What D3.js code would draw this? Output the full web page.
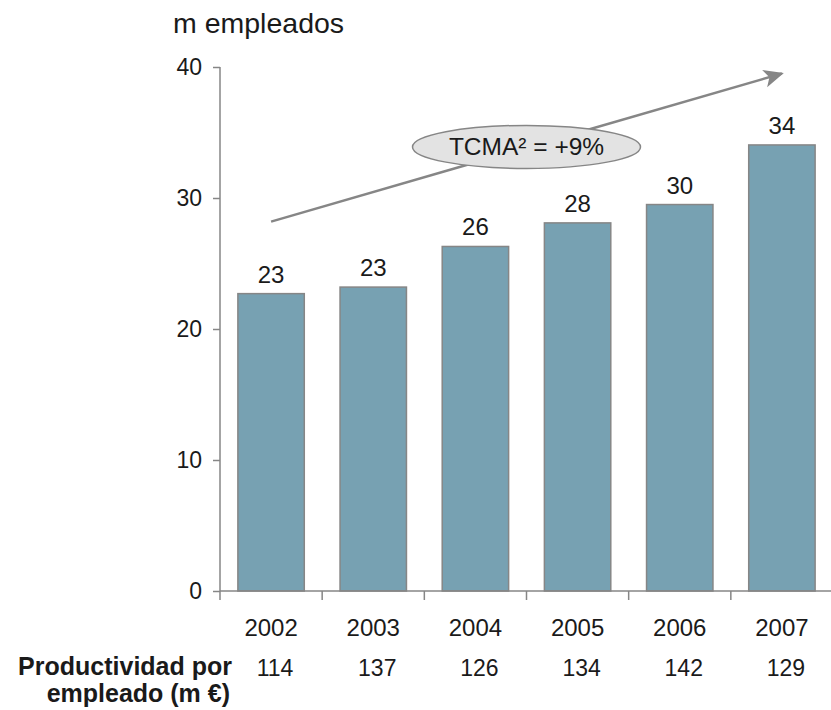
<!DOCTYPE html>
<html><head><meta charset="utf-8">
<script src="https://cdn.jsdelivr.net/npm/d3@7"></script>
<style>
body{margin:0;background:#fff;}
text{font-family:"Liberation Sans",Arial,sans-serif;fill:#1a1a1a;}
</style></head>
<body>
<svg id="chart" width="831" height="710"></svg>
<script>
const years = ["2002","2003","2004","2005","2006","2007"];
const empleados = [22.7, 23.2, 26.3, 28.1, 29.5, 34.05];
const valueLabels = ["23","23","26","28","30","34"];
const productividad = ["114","137","126","134","142","129"];
const yTicks = [0,10,20,30,40];
const cagrLabel = "TCMA² = +9%";
const trendStart = 28.2, trendEnd = 39.5, ovalValue = 33.9;

const svg = d3.select("#chart");
const x = d3.scaleBand().domain(years).range([220, 833]).paddingInner(0.35).paddingOuter(0.175);
const y = d3.scaleLinear().domain([0,40]).range([591, 67]);
const grey = "#868686";

// Title
svg.append("text").attr("x",173).attr("y",33).attr("font-size",28.5).text("m empleados");

// Bars
svg.selectAll("rect.bar").data(years).join("rect").attr("class","bar")
  .attr("x", d=>x(d)).attr("width", x.bandwidth())
  .attr("y", (d,i)=>y(empleados[i])).attr("height",(d,i)=>y(0)-y(empleados[i]))
  .attr("fill","#77a1b2").attr("stroke",grey).attr("stroke-width",1.5);

// Value labels
svg.selectAll("text.val").data(years).join("text").attr("class","val")
  .attr("x", d=>x(d)+x.bandwidth()/2).attr("y",(d,i)=>y(empleados[i])-11)
  .attr("text-anchor","middle").attr("font-size",24).text((d,i)=>valueLabels[i]);

// Y axis
const yAxis = d3.axisLeft(y).tickValues(yTicks).tickSize(7).tickPadding(11).tickSizeOuter(0);
const gy = svg.append("g").attr("transform","translate(220,0)").call(yAxis);
gy.select(".domain").attr("stroke",grey).attr("stroke-width",1.5).attr("d","M0,67V600");
gy.selectAll(".tick line").attr("stroke",grey).attr("stroke-width",1.5);
gy.selectAll(".tick text").attr("font-size",23).attr("fill","#1a1a1a").attr("font-family","Liberation Sans, Arial, sans-serif");

// X axis
const gx = svg.append("g").attr("transform","translate(0,591)");
gx.append("line").attr("x1",220).attr("x2",831).attr("y1",0).attr("y2",0).attr("stroke",grey).attr("stroke-width",1.5);
const step = x.step();
const bounds = years.map(d=>x(d) - (step - x.bandwidth())/2).slice(1);
gx.selectAll("line.tk").data(bounds).join("line").attr("class","tk")
  .attr("x1",d=>d).attr("x2",d=>d).attr("y1",0).attr("y2",9).attr("stroke",grey).attr("stroke-width",1.5);

// Year labels
svg.selectAll("text.yr").data(years).join("text").attr("class","yr")
  .attr("x", d=>x(d)+x.bandwidth()/2).attr("y",636)
  .attr("text-anchor","middle").attr("font-size",24).text(d=>d);

// Productividad row
svg.selectAll("text.prod").data(years).join("text").attr("class","prod")
  .attr("x", d=>x(d)+x.bandwidth()/2+4).attr("y",676)
  .attr("text-anchor","middle").attr("font-size",23).text((d,i)=>productividad[i]);
svg.append("text").attr("x",232).attr("y",675).attr("text-anchor","end")
  .attr("font-size",25).attr("font-weight","bold").text("Productividad por");
svg.append("text").attr("x",230).attr("y",702).attr("text-anchor","end")
  .attr("font-size",25).attr("font-weight","bold").text("empleado (m €)");

// Trend arrow
const defs = svg.append("defs");
defs.append("marker").attr("id","arr").attr("viewBox","0 0 20 20").attr("refX",18).attr("refY",10)
  .attr("markerWidth",20).attr("markerHeight",20).attr("markerUnits","userSpaceOnUse").attr("orient","auto")
  .append("path").attr("d","M0,1 L20,10 L0,19 L5,10 Z").attr("fill",grey);
const x0 = x(years[0])+x.bandwidth()/2, x1 = x(years[5])+x.bandwidth()/2;
svg.append("line").attr("x1",x0).attr("y1",y(trendStart)).attr("x2",x1).attr("y2",y(trendEnd))
  .attr("stroke",grey).attr("stroke-width",2.5).attr("marker-end","url(#arr)");

// Oval
const ox = (x(years[2])+x(years[3])+x.bandwidth())/2;
svg.append("ellipse").attr("cx",ox).attr("cy",y(ovalValue)).attr("rx",114).attr("ry",21.5)
  .attr("fill","#e3e3e3").attr("stroke",grey).attr("stroke-width",1.5);
svg.append("text").attr("x",ox).attr("y",y(ovalValue)+8.5).attr("text-anchor","middle")
  .attr("font-size",24.5).text(cagrLabel);
</script>
</body></html>
